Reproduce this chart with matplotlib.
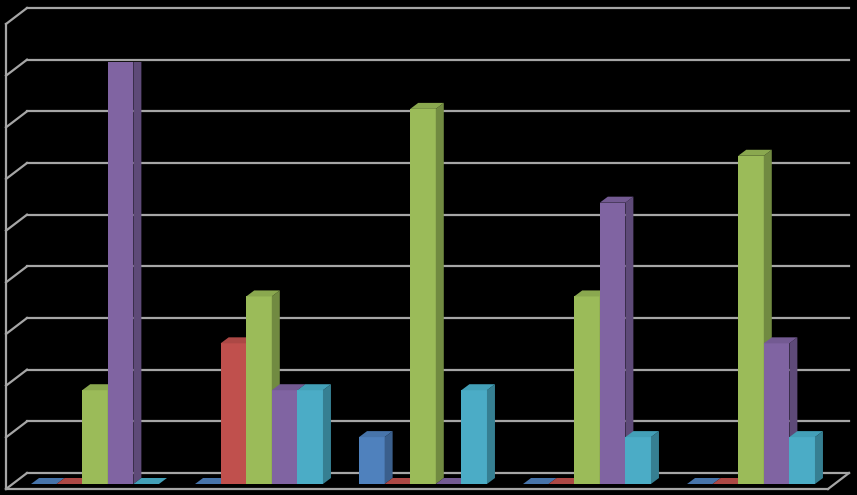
import matplotlib.pyplot as plt
from matplotlib.patches import Polygon
from matplotlib.transforms import offset_copy

# five groups, five series (no labels shown in the chart)
groups = ["1", "2", "3", "4", "5"]
series_names = ["Series 1", "Series 2", "Series 3", "Series 4", "Series 5"]
s1 = [0, 0, 1, 0, 0]
s2 = [0, 3, 0, 0, 0]
s3 = [2, 4, 8, 4, 7]
s4 = [9, 2, 0, 6, 3]
s5 = [0, 2, 2, 1, 1]
series = [s1, s2, s3, s4, s5]
levels = list(range(10))

front = ["#4F81BD", "#C0504D", "#9BBB59", "#8064A2", "#4BACC6"]
side = ["#3A5F8C", "#8E3B39", "#718A41", "#5E4A78", "#367F92"]
top = ["#4774AA", "#AC4845", "#8AA84F", "#735A92", "#43A0B8"]

W, H = 857, 495
fig = plt.figure(figsize=(W / 100, H / 100), dpi=100, facecolor="black")

# back wall with gridlines
ax_back = fig.add_axes([27 / W, (H - 473) / H, 822 / W, 465 / H])
ax_back.set_facecolor("black")
ax_back.set_xlim(0, 1)
ax_back.set_ylim(0, 9)
ax_back.set_yticks(levels)
ax_back.axis("off")
grid_kw = dict(color="#A6A6A6", lw=1.6, clip_on=False)
for v in ax_back.get_yticks():
    ax_back.axhline(v, **grid_kw)

# side wall and floor, shifted toward the viewer
DX, DY = -21, -16
front_tr = offset_copy(ax_back.transData, fig=fig, x=DX, y=DY, units="dots")
for v in levels:
    x0, y0 = ax_back.transData.transform((0, v))
    fig.add_artist(plt.Line2D([x0 + DX, x0], [y0 + DY, y0], transform=None, **grid_kw))
fig.add_artist(plt.Line2D([0, 0], [0, 9], transform=front_tr, **grid_kw))
fig.add_artist(plt.Line2D([0, 1], [0, 0], transform=front_tr, **grid_kw))
xr, yr = ax_back.transData.transform((1, 0))
fig.add_artist(plt.Line2D([xr + DX, xr], [yr + DY, yr], transform=None, **grid_kw))

# bars
ax = fig.add_axes([13 / W, (H - 484) / H, 820 / W, 422 / H])
ax.patch.set_alpha(0)
ax.set_xlim(-0.5, len(groups) - 0.5)
ax.set_ylim(0, 9)
ax.axis("off")

bw = 0.156
ddx = 8 * (len(groups) / 820)
ddy = 6 * (9 / 422)
z = 3
for i in range(len(groups)):
    for j, vals in enumerate(series):
        h = vals[i]
        xl = i + (j - 2.5) * bw
        xr_ = xl + bw
        ax.bar(xl, h, width=bw, align="edge", color=front[j], zorder=z, lw=0)
        ax.add_patch(Polygon([(xr_, 0), (xr_, h), (xr_ + ddx, h + ddy), (xr_ + ddx, ddy)],
                             closed=True, fc=side[j], ec="none", zorder=z))
        ax.add_patch(Polygon([(xl, h), (xr_, h), (xr_ + ddx, h + ddy), (xl + ddx, h + ddy)],
                             closed=True, fc=top[j], ec="none", zorder=z))
        z += 1

fig.savefig("out.png", dpi=100, facecolor="black")
